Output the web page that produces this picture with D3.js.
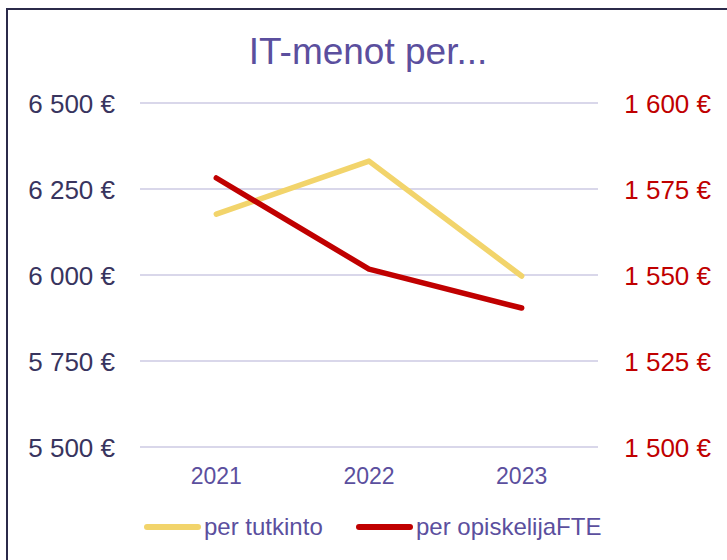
<html>
<head>
<meta charset="utf-8">
<script src="https://d3js.org/d3.v7.min.js"></script>
<style>
  body { margin: 0; background: #fff; }
  text { font-family: "Liberation Sans", Arial, sans-serif; }
</style>
</head>
<body>
<div id="chart"></div>
<script>
const years = ["2021", "2022", "2023"];
const perTutkinto = [6177, 6331, 5997];
const perOpiskelija = [1578.2, 1551.7, 1540.4];
const leftTicks = [5500, 5750, 6000, 6250, 6500];
const rightTicks = [1500, 1525, 1550, 1575, 1600];

const W = 727, H = 560;
const plot = {left: 140, right: 598, top: 103, bottom: 447};

const svg = d3.select("#chart").append("svg")
  .attr("width", W).attr("height", H);

// chart frame
svg.append("rect")
  .attr("x", 7).attr("y", 9)
  .attr("width", W).attr("height", H)
  .attr("fill", "none")
  .attr("stroke", "#2b2a4a")
  .attr("stroke-width", 2);

const x = d3.scalePoint().domain(years).range([plot.left, plot.right]).padding(0.5);
const yL = d3.scaleLinear().domain([5500, 6500]).range([plot.bottom, plot.top]);
const yR = d3.scaleLinear().domain([1500, 1600]).range([plot.bottom, plot.top]);

const fmt = v => d3.format(",")(v).replace(/,/g, " ") + " €";

// gridlines
svg.append("g").selectAll("line").data(leftTicks).join("line")
  .attr("x1", plot.left).attr("x2", plot.right)
  .attr("y1", d => yL(d)).attr("y2", d => yL(d))
  .attr("stroke", "#d9d7ea").attr("stroke-width", 2);

// left axis
svg.append("g").selectAll("text").data(leftTicks).join("text")
  .attr("x", 115).attr("y", d => yL(d) + 10)
  .attr("text-anchor", "end")
  .attr("font-size", 26)
  .attr("fill", "#38345e")
  .text(fmt);

// right axis
svg.append("g").selectAll("text").data(rightTicks).join("text")
  .attr("x", 711).attr("y", d => yR(d) + 10)
  .attr("text-anchor", "end")
  .attr("font-size", 26)
  .attr("fill", "#c00000")
  .text(fmt);

// x axis labels
svg.append("g").selectAll("text").data(years).join("text")
  .attr("x", d => x(d)).attr("y", 484)
  .attr("text-anchor", "middle")
  .attr("font-size", 23)
  .attr("fill", "#5b4f9e")
  .text(d => d);

// title
svg.append("text")
  .attr("x", 368).attr("y", 64)
  .attr("text-anchor", "middle")
  .attr("font-size", 37)
  .attr("fill", "#5b4f9e")
  .text("IT-menot per...");

// lines
const lineL = d3.line().x((d, i) => x(years[i])).y(d => yL(d));
const lineR = d3.line().x((d, i) => x(years[i])).y(d => yR(d));

svg.append("path").datum(perTutkinto)
  .attr("d", lineL)
  .attr("fill", "none").attr("stroke", "#f2d46b")
  .attr("stroke-width", 5.5).attr("stroke-linecap", "round").attr("stroke-linejoin", "round");

svg.append("path").datum(perOpiskelija)
  .attr("d", lineR)
  .attr("fill", "none").attr("stroke", "#c00000")
  .attr("stroke-width", 5.5).attr("stroke-linecap", "round").attr("stroke-linejoin", "round");

// legend
const legend = [
  {name: "per tutkinto", color: "#f2d46b", x: 147},
  {name: "per opiskelijaFTE", color: "#c00000", x: 359}
];
const lg = svg.append("g").selectAll("g").data(legend).join("g")
  .attr("transform", d => `translate(${d.x},527)`);
lg.append("line")
  .attr("x1", 0).attr("x2", 51).attr("y1", 0).attr("y2", 0)
  .attr("stroke", d => d.color).attr("stroke-width", 6).attr("stroke-linecap", "round");
lg.append("text")
  .attr("x", 57).attr("y", 8)
  .attr("font-size", 24)
  .attr("fill", "#5b4f9e")
  .text(d => d.name);
</script>
</body>
</html>
